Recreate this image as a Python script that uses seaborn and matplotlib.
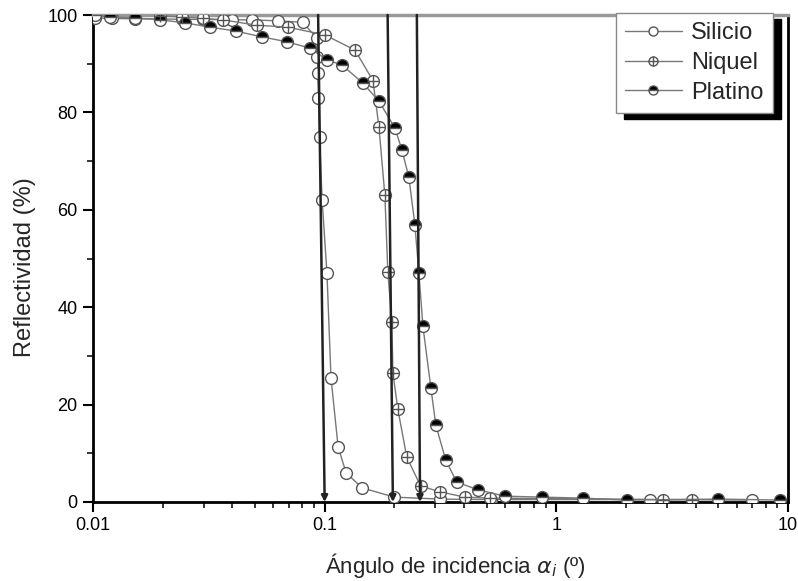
import numpy as np
import pandas as pd
import matplotlib
matplotlib.use("Agg")
import matplotlib.pyplot as plt
import seaborn as sns
from matplotlib.lines import Line2D
from matplotlib.legend_handler import HandlerTuple
from matplotlib.patches import Rectangle
from matplotlib.ticker import FixedLocator, FixedFormatter, LogLocator, NullFormatter, MultipleLocator

# ---------------- data ----------------
si_x = [0.0102, 0.0121, 0.0152, 0.0195, 0.0242, 0.0299, 0.0398, 0.0486, 0.0627, 0.0804,
        0.0927, 0.0930, 0.0935, 0.0940, 0.0950, 0.0975, 0.1023, 0.1065, 0.1143, 0.1237,
        0.1451, 0.200, 0.314, 0.52, 2.54, 6.98]
si_y = [99.4, 99.3, 99.2, 99.2, 99.1, 99.1, 99.0, 99.0, 98.8, 98.5,
        95.2, 91.4, 88.0, 83.0, 75.0, 62.0, 47.0, 25.5, 11.3, 6.0,
        2.9, 1.0, 0.6, 0.5, 0.5, 0.4]

ni_x = [0.0195, 0.0242, 0.0299, 0.0364, 0.0510, 0.0695, 0.1003, 0.1352, 0.1617, 0.1715,
        0.1819, 0.1874, 0.1950, 0.1970, 0.2069, 0.2262, 0.2595, 0.3137, 0.4022, 0.5184,
        2.89, 3.87]
ni_y = [99.8, 99.6, 99.3, 99.0, 97.9, 97.5, 95.9, 92.8, 86.5, 77.0,
        63.0, 47.2, 37.0, 26.5, 19.1, 9.2, 3.3, 2.1, 1.0, 0.8,
        0.5, 0.5]

pt_x = [0.0102, 0.0118, 0.0152, 0.0195, 0.0249, 0.0320, 0.0414, 0.0536, 0.0688, 0.0863,
        0.1023, 0.1190, 0.1463, 0.1715, 0.2011, 0.2154, 0.2309, 0.2452, 0.2551, 0.2655,
        0.2874, 0.3019, 0.3331, 0.3717, 0.4585, 0.5987, 0.8653, 1.298, 2.02, 4.99, 9.2]
pt_y = [100.0, 99.6, 99.4, 99.0, 98.4, 97.5, 96.7, 95.5, 94.5, 93.2,
        90.8, 89.7, 86.0, 82.3, 76.8, 72.3, 66.7, 56.9, 47.0, 36.1,
        23.4, 15.8, 8.6, 4.1, 2.5, 1.2, 1.0, 0.8, 0.4, 0.6, 0.4]

series_names = ["Silicio", "Niquel", "Platino"]

# critical-angle arrows (top x, bottom x)
crit_top = [0.0937, 0.187, 0.250]
crit_bottom = [0.100, 0.197, 0.258]

x_ticks = [0.01, 0.1, 1, 10]
x_tick_labels = ["0.01", "0.1", "1", "10"]
y_ticks = [0, 20, 40, 60, 80, 100]

# ---------------- style ----------------
sns.set_style("ticks")
plt.rcParams["font.family"] = ["Liberation Sans", "DejaVu Sans"]
plt.rcParams["mathtext.fontset"] = "dejavusans"

fig = plt.figure(figsize=(7.98, 5.81), dpi=100)
ax = fig.add_axes([93 / 798, 1 - 502 / 581, (788 - 93) / 798, (502 - 15) / 581])

line_c = "#777777"
edge_c = "#555555"
ms = 8.5

df_si = pd.DataFrame({"x": si_x, "y": si_y})
df_ni = pd.DataFrame({"x": ni_x, "y": ni_y})
df_pt = pd.DataFrame({"x": pt_x, "y": pt_y})

sns.lineplot(data=df_si, x="x", y="y", ax=ax, estimator=None, sort=False,
             color=line_c, lw=1.0, marker="o", markersize=ms,
             markerfacecolor="white", markeredgecolor=edge_c, markeredgewidth=1.0, zorder=3)
sns.lineplot(data=df_ni, x="x", y="y", ax=ax, estimator=None, sort=False,
             color=line_c, lw=1.0, marker="o", markersize=ms,
             markerfacecolor="white", markeredgecolor=edge_c, markeredgewidth=1.0, zorder=3)
ax.plot(ni_x, ni_y, ls="none", marker="+", markersize=ms, markeredgecolor=edge_c,
        markeredgewidth=1.0, zorder=4)
sns.lineplot(data=df_pt, x="x", y="y", ax=ax, estimator=None, sort=False,
             color=line_c, lw=1.0, marker="o", markersize=ms, fillstyle="top",
             markerfacecolor="black", markerfacecoloralt="white",
             markeredgecolor=edge_c, markeredgewidth=1.0, zorder=3)

for xt, xb in zip(crit_top, crit_bottom):
    ax.annotate("", xy=(xb, 0), xytext=(xt, 100),
                arrowprops=dict(arrowstyle="-|>", color="#222222", lw=1.8,
                                mutation_scale=9, shrinkA=0, shrinkB=0),
                zorder=5)

ax.set_xscale("log")
ax.set_xlim(0.01, 10)
ax.set_ylim(0, 100)
ax.xaxis.set_major_locator(FixedLocator(x_ticks))
ax.xaxis.set_major_formatter(FixedFormatter(x_tick_labels))
ax.xaxis.set_minor_locator(LogLocator(base=10, subs=np.arange(2, 10)))
ax.xaxis.set_minor_formatter(NullFormatter())
ax.yaxis.set_major_locator(FixedLocator(y_ticks))
ax.yaxis.set_minor_locator(MultipleLocator(10))

ax.tick_params(axis="both", which="major", direction="out", length=7, width=1.5,
               labelsize=13, colors="black", pad=4)
ax.tick_params(axis="both", which="minor", direction="out", length=4, width=1.3)

for s in ["left", "bottom", "right"]:
    ax.spines[s].set_linewidth(2.0)
    ax.spines[s].set_color("black")
ax.spines["top"].set_linewidth(2.5)
ax.spines["top"].set_color("#999999")

ax.set_xlabel(r"Ángulo de incidencia $\alpha_i$ (º)", fontsize=16)
ax.set_ylabel("Reflectividad (%)", fontsize=17)
ax.xaxis.set_label_coords(0.522, -0.1)
ax.yaxis.set_label_coords(-0.082, 0.483)

# legend
h_si = Line2D([], [], color=line_c, lw=1.0, marker="o", markersize=6.5,
              markerfacecolor="white", markeredgecolor=edge_c)
h_ni_o = Line2D([], [], color=line_c, lw=1.0, marker="o", markersize=6.5,
                markerfacecolor="white", markeredgecolor=edge_c)
h_ni_p = Line2D([], [], ls="none", marker="+", markersize=6.5, markeredgecolor=edge_c)
h_pt = Line2D([], [], color=line_c, lw=1.0, marker="o", markersize=6.5, fillstyle="top",
              markerfacecolor="black", markerfacecoloralt="white", markeredgecolor=edge_c)
leg = ax.legend([h_si, (h_ni_o, h_ni_p), h_pt], series_names,
                handler_map={tuple: HandlerTuple(ndivide=1, pad=0)},
                loc="upper right", bbox_to_anchor=(773 / 798, 1 - 13 / 581),
                bbox_transform=fig.transFigure,
                fontsize=17, frameon=True, fancybox=False, framealpha=1,
                edgecolor="#888888", handlelength=2.4, handletextpad=0.4,
                borderpad=0.4, labelspacing=0.32, borderaxespad=0)
leg.get_frame().set_linewidth(1.0)
leg.set_zorder(10)

fig.canvas.draw()
bb = leg.get_window_extent()
shadow = Rectangle((bb.x0 + 8, bb.y0 - 6), bb.width, bb.height, transform=None,
                   facecolor="black", edgecolor="black", zorder=9, clip_on=False)
ax.add_patch(shadow)

fig.savefig("out.png", dpi=100)
